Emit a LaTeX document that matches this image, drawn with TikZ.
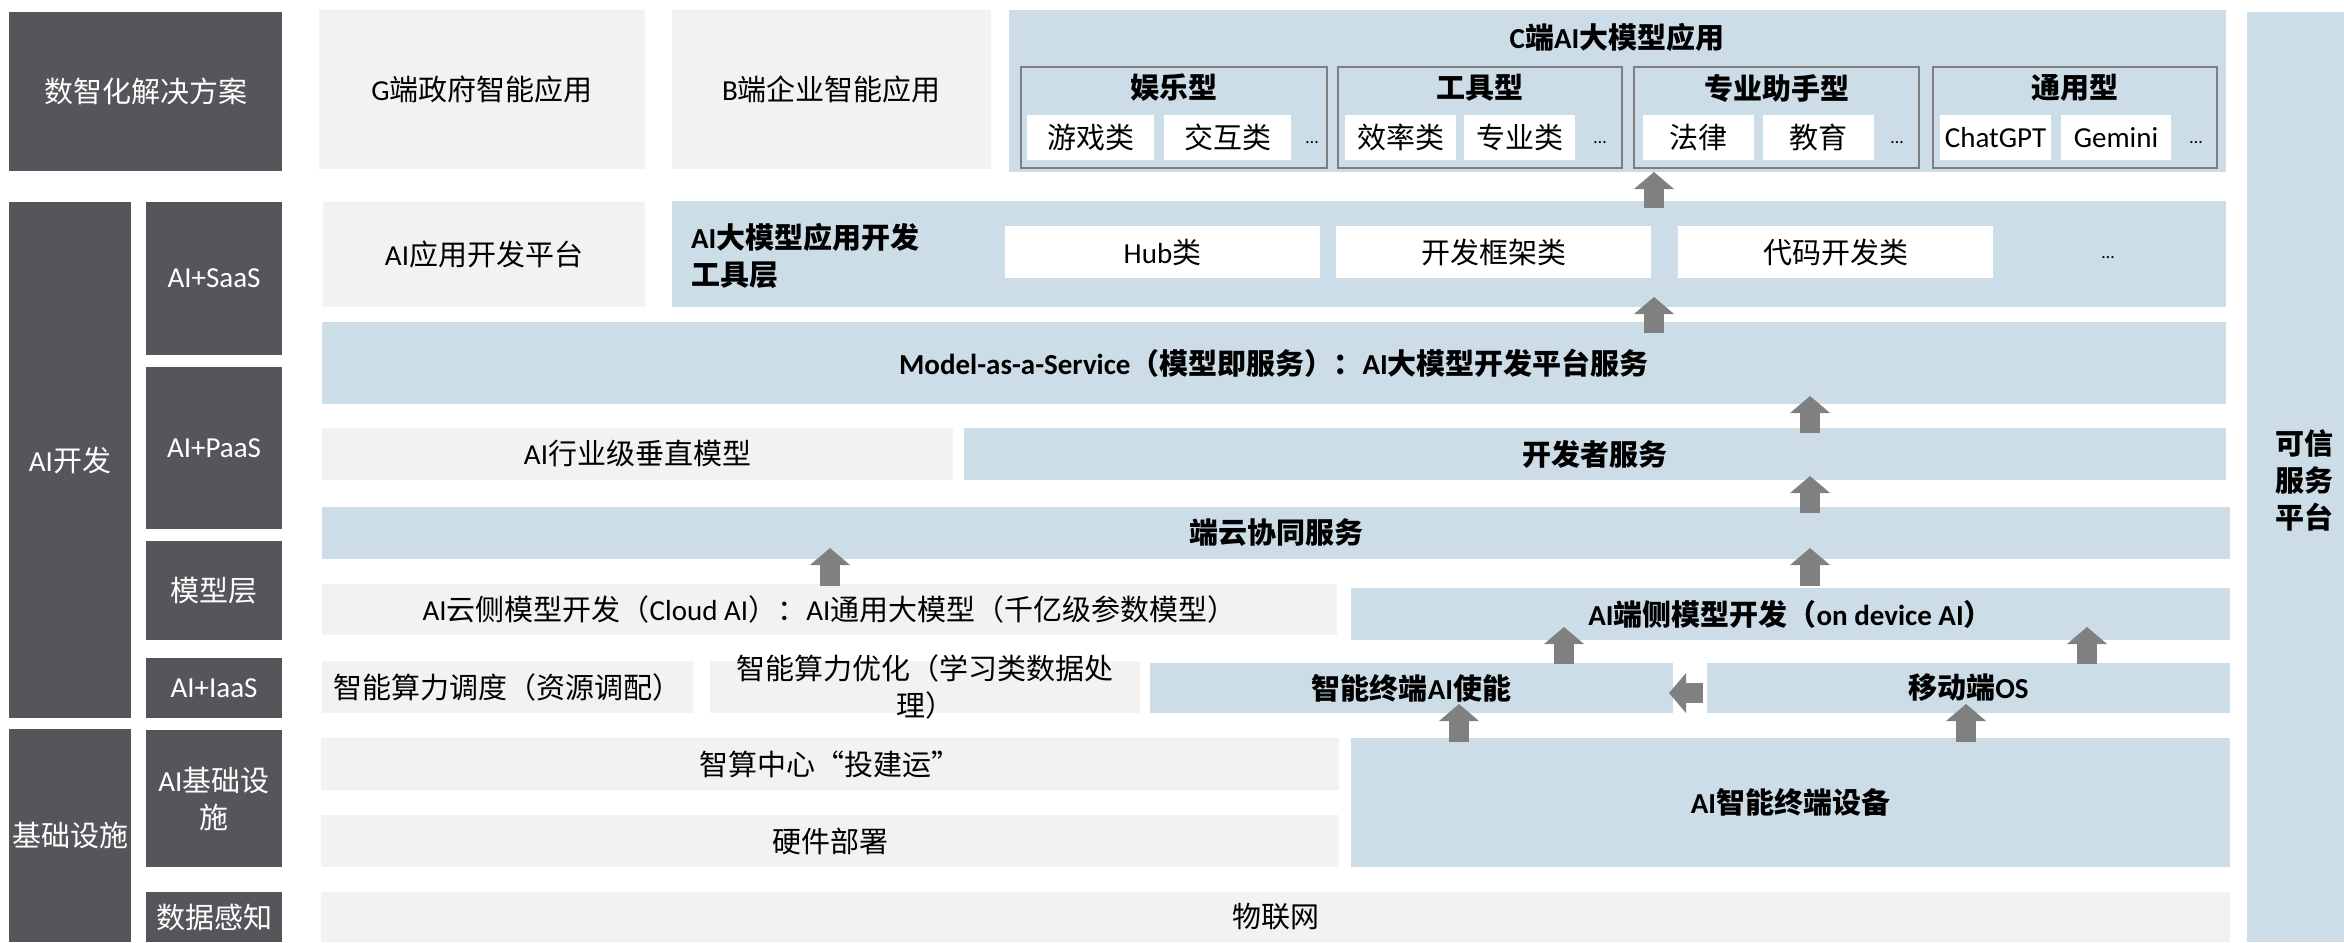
\documentclass[tikz,border=0pt]{standalone}
\usepackage{fontspec}
\setmainfont{Noto Sans CJK SC}
\newfontfamily\lat{Carlito}
\newcommand\Lt[1]{{\lat #1}}
\usetikzlibrary{fit,calc,arrows.meta}
\definecolor{dk}{RGB}{84,86,90}
\definecolor{lg}{RGB}{242,242,242}
\definecolor{lb}{RGB}{204,221,231}
\definecolor{ag}{RGB}{128,128,128}
\definecolor{bord}{RGB}{127,127,127}
\newcommand\mybox[5][]{\node[#1, fit={(#3) (#4)}] (#2) {};
  \node[#1, fill=none, draw=none] (#2-t) at (#2.center) {#5};}
\tikzset{
  base/.style={inner sep=0pt, outer sep=0pt, align=center, font=\fontsize{14.5}{18.5}\selectfont},
  dark/.style={base, fill=dk, text=white},
  gbox/.style={base, fill=lg},
  bbox/.style={base, fill=lb, font=\fontsize{14.5}{18.5}\selectfont\bfseries},
  wbox/.style={base, fill=white},
  subbox/.style={base, fill=lb, draw=bord, line width=1.4pt},
  hdr/.style={base, font=\fontsize{14.5}{18.5}\selectfont\bfseries},
  dotsnode/.style={inner sep=0pt, font=\fontsize{9}{10}\selectfont\lat},
  blk/.style={draw=ag, line width=10pt, line cap=butt, -{Triangle[length=8.5pt,width=20pt,line width=0pt]}}
}
\begin{document}
\begin{tikzpicture}[x=0.5pt,y=-0.5pt]
\useasboundingbox (0,0) rectangle (2344,942);
% left dark column
\mybox[dark]{sol}{9,12}{282,171}{数智化解决方案}
\mybox[dark]{aidevL}{9,202}{131,718}{\Lt{AI}开发}
\mybox[dark]{saas}{146,202}{282,355}{\Lt{AI+SaaS}}
\mybox[dark]{paas}{146,367}{282,529}{\Lt{AI+PaaS}}
\mybox[dark]{modl}{146,541}{282,640}{模型层}
\mybox[dark]{iaas}{146,658}{282,718}{\Lt{AI+IaaS}}
\mybox[dark]{infra}{9,729}{131,942}{基础设施}
\mybox[dark]{aiinf}{146,730}{282,867}{\Lt{AI}基础设\\施}
\mybox[dark]{sense}{146,892}{282,942}{数据感知}
% right column
\mybox[bbox]{trust}{2247,12}{2344,942}{}
\node[hdr] (trustT) at (2304,480) {可信\\服务\\平台};
% row 1
\mybox[gbox]{g}{319,10}{645,169}{\Lt{G}端政府智能应用}
\mybox[gbox]{b}{672,10}{991,169}{\Lt{B}端企业智能应用}
\mybox[bbox]{capp}{1009,10}{2226,172}{}
\node[hdr] (ctitle) at (1617,37) {\Lt{C}端\Lt{AI}大模型应用};
\mybox[subbox]{s1}{1021,67}{1327,168}{}
\mybox[subbox]{s2}{1338,67}{1622,168}{}
\mybox[subbox]{s3}{1634,67}{1919,168}{}
\mybox[subbox]{s4}{1933,67}{2217,168}{}
\node[hdr] (h1) at ($(s1.north)+(0,21)$) {娱乐型};
\node[hdr] (h2) at ($(s2.north)+(0,21)$) {工具型};
\node[hdr] (h3) at ($(s3.north)+(0,21)$) {专业助手型};
\node[hdr] (h4) at ($(s4.north)+(0,21)$) {通用型};
\mybox[wbox]{w11}{1027,115}{1154,160}{游戏类}
\mybox[wbox]{w12}{1164,115}{1291,160}{交互类}
\mybox[wbox]{w21}{1345,115}{1456,160}{效率类}
\mybox[wbox]{w22}{1464,115}{1575,160}{专业类}
\mybox[wbox]{w31}{1643,115}{1754,160}{法律}
\mybox[wbox]{w32}{1763,115}{1874,160}{教育}
\mybox[wbox]{w41}{1940,115}{2051,160}{\Lt{ChatGPT}}
\mybox[wbox]{w42}{2061,115}{2171,160}{\Lt{Gemini}}
\node[dotsnode] (d1) at (1312,143) {…};
\node[dotsnode] (d2) at (1600,143) {…};
\node[dotsnode] (d3) at (1897,143) {…};
\node[dotsnode] (d4) at (2196,143) {…};
% row 2
\mybox[gbox]{aiplat}{323,202}{645,307}{\Lt{AI}应用开发平台}
\mybox[bbox]{tool}{672,201}{2226,307}{}
\node[hdr, anchor=west, align=left] (toolT) at (691,256) {\Lt{AI}大模型应用开发\\工具层};
\mybox[wbox]{hub}{1005,226}{1320,278}{\Lt{Hub}类}
\mybox[wbox]{fw}{1336,226}{1651,278}{开发框架类}
\mybox[wbox]{code}{1678,226}{1993,278}{代码开发类}
\node[dotsnode] (d5) at (2108,258) {…};
% row 3
\mybox[bbox]{maas}{322,322}{2226,404}{\Lt{Model-as-a-Service}（模型即服务）：\Lt{AI}大模型开发平台服务}
% row 4
\mybox[gbox]{vert}{322,428}{953,480}{\Lt{AI}行业级垂直模型}
\mybox[bbox]{devsvc}{964,428}{2226,480}{开发者服务}
% row 5
\mybox[bbox]{dycl}{322,507}{2230,559}{端云协同服务}
% row 6
\mybox[gbox]{cloud}{322,584}{1337,635}{\Lt{AI}云侧模型开发（\Lt{Cloud AI}）：\Lt{AI}通用大模型（千亿级参数模型）}
\mybox[bbox]{ondev}{1351,588}{2230,640}{\Lt{AI}端侧模型开发（\Lt{on device AI}）}
% row 7
\mybox[gbox]{sched}{322,661}{693,713}{智能算力调度（资源调配）}
\mybox[gbox]{opt}{710,661}{1140,713}{智能算力优化（学习类数据处\\理）}
\mybox[bbox]{enable}{1150,663}{1673,713}{智能终端\Lt{AI}使能}
\mybox[bbox]{os}{1707,663}{2230,713}{移动端\Lt{OS}}
% row 8
\mybox[gbox]{zs}{321,738}{1339,790}{智算中心“投建运”}
\mybox[gbox]{hw}{321,815}{1339,867}{硬件部署}
\mybox[bbox]{term}{1351,738}{2230,867}{\Lt{AI}智能终端设备}
% row 9
\mybox[gbox]{iot}{321,892}{2230,942}{物联网}
% arrows
\coordinate (xa) at (1654,0);
\coordinate (xb) at (1810,0);
\coordinate (xc) at (830,0);
\coordinate (xd) at (1564,0);
\coordinate (xe) at (2087,0);
\coordinate (yf) at (0,693);
\coordinate (xg) at (1459,0);
\coordinate (xh) at (1966,0);
\draw[blk] ($(tool.north -| xa)+(0,7)$) -- (capp.south -| xa);
\draw[blk] ($(maas.north -| xa)+(0,11)$) -- ($(tool.south -| xa)+(0,-10)$);
\draw[blk] ($(devsvc.north -| xb)+(0,5)$) -- ($(maas.south -| xb)+(0,-8)$);
\draw[blk] ($(dycl.north -| xb)+(0,6)$) -- ($(devsvc.south -| xb)+(0,-4)$);
\draw[blk] ($(ondev.north -| xb)+(0,-2)$) -- ($(dycl.south -| xb)+(0,-11)$);
\draw[blk] ($(cloud.north -| xc)+(0,2)$) -- ($(dycl.south -| xc)+(0,-11)$);
\draw[blk] ($(enable.north -| xd)+(0,1)$) -- ($(ondev.south -| xd)+(0,-13)$);
\draw[blk] ($(os.north -| xe)+(0,1)$) -- ($(ondev.south -| xe)+(0,-13)$);
\draw[blk] ($(os.west |- yf)+(-4,0)$) -- ($(enable.east |- yf)+(-4,0)$);
\draw[blk] ($(term.north -| xg)+(0,4)$) -- ($(enable.south -| xg)+(0,-9)$);
\draw[blk] ($(term.north -| xh)+(0,4)$) -- ($(os.south -| xh)+(0,-9)$);
\end{tikzpicture}
\end{document}
